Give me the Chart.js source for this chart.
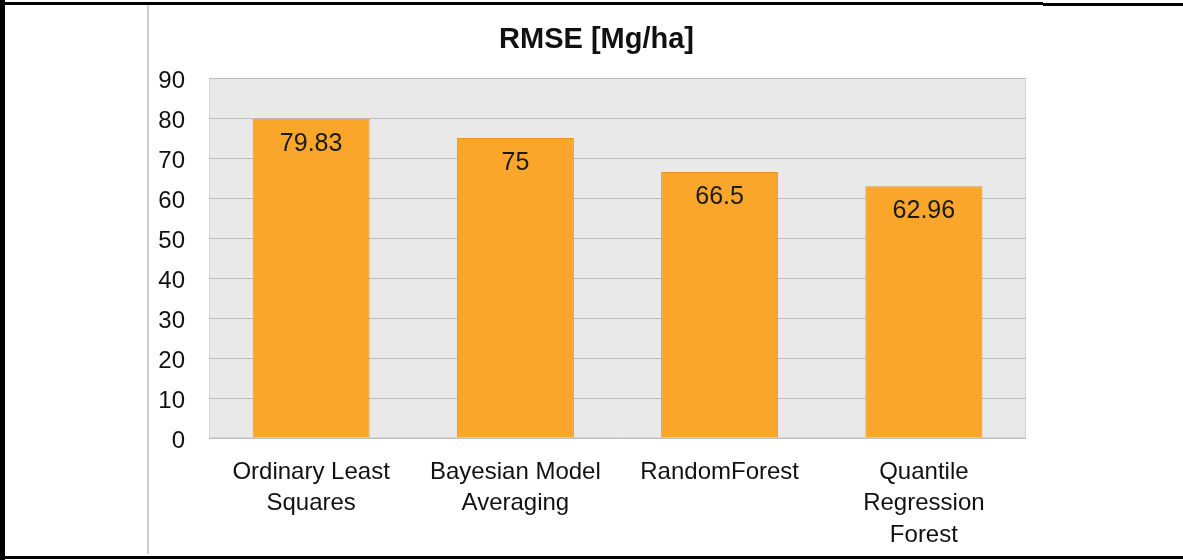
<!DOCTYPE html>
<html lang="en">
<head>
  <meta charset="UTF-8">
  <title>RMSE [Mg/ha]</title>
  <script src="https://cdn.jsdelivr.net/npm/chart.js"></script>
  <style>
    html, body { margin: 0; padding: 0; background: #fff; }
    body { width: 1183px; height: 560px; position: relative; overflow: hidden; font-family: 'Liberation Sans', Arial, sans-serif; }
    .frame-left { position: absolute; left: 0; top: 0; width: 5px; height: 560px; background: #000; }
    .frame-top { position: absolute; left: 0; top: 2px; width: 1043px; height: 3px; background: #000; }
    .frame-top2 { position: absolute; left: 1043px; top: 3px; width: 140px; height: 3px; background: #000; }
    .frame-bottom { position: absolute; left: 0; top: 556px; width: 1183px; height: 3px; background: #000; }
    .sep { position: absolute; left: 147px; top: 5px; width: 2px; height: 549px; background: #cfcfcf; }
    .chart-box { position: absolute; left: 150px; top: 5px; width: 893px; height: 550px; }
  </style>
</head>
<body>
  <div class="frame-left"></div>
  <div class="frame-top"></div>
  <div class="frame-top2"></div>
  <div class="frame-bottom"></div>
  <div class="sep"></div>
  <div class="chart-box"><canvas id="rmseChart"></canvas></div>

  <script>
    const titulo = 'RMSE [Mg/ha]';
    const categorias = [
      ['Ordinary Least', 'Squares'],
      ['Bayesian Model', 'Averaging'],
      'RandomForest',
      ['Quantile', 'Regression', 'Forest']
    ];
    const rmse = [79.83, 75, 66.5, 62.96];
    const etiquetas = ['79.83', '75', '66.5', '62.96'];

    const fuente = '"Liberation Sans", Arial, sans-serif';

    // fondo gris del area de trazado + titulo centrado en el lienzo
    const fondoArea = {
      id: 'fondoArea',
      beforeDraw(chart) {
        const { ctx, chartArea: a } = chart;
        ctx.save();
        ctx.fillStyle = '#e9e9e9';
        ctx.fillRect(a.left, a.top, a.right - a.left, a.bottom - a.top);
        ctx.strokeStyle = '#d6d6d6';
        ctx.lineWidth = 1;
        ctx.strokeRect(a.left + 0.5, a.top + 0.5, a.right - a.left - 1, a.bottom - a.top - 1);

        ctx.font = 'bold 29px ' + fuente;
        ctx.fillStyle = '#111';
        ctx.textAlign = 'center';
        ctx.textBaseline = 'alphabetic';
        ctx.fillText(titulo, chart.width / 2, 43);
        ctx.restore();
      }
    };

    const valores = {
      id: 'valores',
      afterDatasetsDraw(chart) {
        const { ctx } = chart;
        const meta = chart.getDatasetMeta(0);
        ctx.save();
        ctx.font = '25px ' + fuente;
        ctx.fillStyle = '#1a1a1a';
        ctx.textAlign = 'center';
        ctx.textBaseline = 'middle';
        meta.data.forEach((bar, i) => {
          ctx.fillText(etiquetas[i], bar.x, bar.y + 25);
        });
        ctx.restore();
      }
    };

    const ctx = document.getElementById('rmseChart').getContext('2d');
    new Chart(ctx, {
      type: 'bar',
      data: {
        labels: categorias,
        datasets: [{
          label: 'RMSE',
          data: rmse,
          backgroundColor: '#f9a62b',
          borderColor: '#e3952a',
          borderWidth: 1,
          barPercentage: 0.573,
          categoryPercentage: 1
        }]
      },
      options: {
        responsive: true,
        maintainAspectRatio: false,
        animation: false,
        layout: { padding: { left: 0, right: 17, top: 73, bottom: 0 } },
        plugins: {
          legend: { display: false },
          tooltip: { enabled: false },
          title: { display: false }
        },
        scales: {
          y: {
            min: 0,
            max: 90,
            ticks: {
              stepSize: 10,
              color: '#111',
              padding: 24,
              labelOffset: 3,
              font: { family: fuente, size: 24 }
            },
            grid: { color: '#bdbdbd', drawTicks: false },
            border: { display: false },
            afterFit(scale) { scale.width = 59; }
          },
          x: {
            ticks: {
              color: '#111',
              padding: 11,
              maxRotation: 0,
              autoSkip: false,
              font: { family: fuente, size: 24, lineHeight: 1.3 }
            },
            grid: { display: false },
            border: { display: false },
            afterFit(scale) { scale.height = 117; }
          }
        }
      },
      plugins: [fondoArea, valores]
    });
  </script>
</body>
</html>
